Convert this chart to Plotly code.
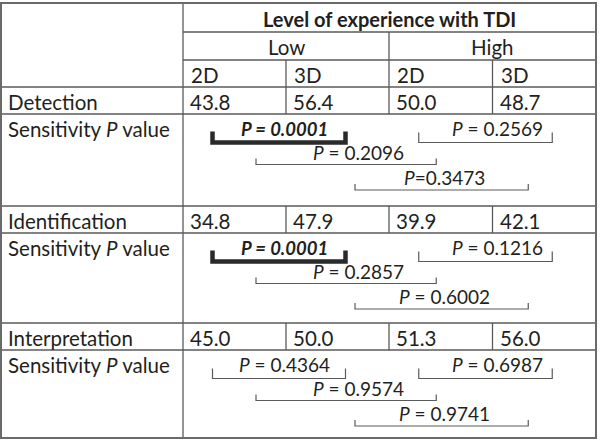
import plotly.graph_objects as go

# ---------------- data ----------------
group_labels = ["Low", "High"]
mode_labels = ["2D", "3D", "2D", "3D"]
header_title = "Level of experience with TDI"
measures = ["Detection", "Identification", "Interpretation"]
detection_vals = [43.8, 56.4, 50.0, 48.7]
identification_vals = [34.8, 47.9, 39.9, 42.1]
interpretation_vals = [45.0, 50.0, 51.3, 56.0]
# comparisons: (col a, col b)
comparisons = [(0, 1), (2, 3), (0, 2), (1, 3)]
detection_p = ["0.0001", "0.2569", "0.2096", "0.3473"]
identification_p = ["0.0001", "0.1216", "0.2857", "0.6002"]
interpretation_p = ["0.4364", "0.6987", "0.9574", "0.9741"]
significant_p = 0.05
nospace_p = {("Detection", 3)}  # "P=0.3473" printed without spaces

values = [detection_vals, identification_vals, interpretation_vals]
pvals = [detection_p, identification_p, interpretation_p]

# ---------------- layout constants ----------------
W, H = 602, 440
X_EDGES = [1, 183, 286, 389, 492.5, 596]
Y_TOP = 3
HEADER_ROWS = [3, 32, 60, 87]
VALUE_H = 27
SENS_H = [92, 90, 88]
FONT = "Lato"
FS = 20.5
FS_P = 19
FS_PB = 18.5
TXT = "#231f20"
LINE = "#5a5a5a"
BORDER = "#6a6a6a"

LEVEL = [0, 0, 1, 2]
END_OFF = {0: (-22, 8), 1: (21.5, -4.5), 2: (17.5, -16)}
TEXT_Y = [14.5, 38.5, 63.5]
BRK_Y = [28.5, 50.5, 76]
TICK_H = [10, 6, 6]
TEXT_SHIFT = [5, 12, 12, 3]

col_left = X_EDGES[1:5]
col_center = [(X_EDGES[i + 1] + X_EDGES[i + 2]) / 2 for i in range(4)]

fig = go.Figure()
shapes = []
ann = []


def hline(y, x0, x1, w=1.3, c=LINE):
    shapes.append(dict(type="line", x0=x0, x1=x1, y0=y, y1=y, xref="x", yref="y",
                       line=dict(color=c, width=w)))


def vline(x, y0, y1, w=1.3, c=LINE):
    shapes.append(dict(type="line", x0=x, x1=x, y0=y0, y1=y1, xref="x", yref="y",
                       line=dict(color=c, width=w)))


def text(x, y, s, anchor="left", size=FS):
    ann.append(dict(x=x, y=y, xref="x", yref="y", text=s, showarrow=False,
                    xanchor=anchor, yanchor="middle",
                    font=dict(family=FONT, size=size, color=TXT)))


# header
h0, h1, h2, h3 = HEADER_ROWS
hline(h1, X_EDGES[1], X_EDGES[5])
hline(h2, X_EDGES[1], X_EDGES[5])
hline(h3, X_EDGES[0], X_EDGES[5])
text((X_EDGES[1] + X_EDGES[5]) / 2, (h0 + h1) / 2 + 1, "<b>" + header_title + "</b>", "center", 20)
vline(X_EDGES[3], h1, h3)
for g, lab in enumerate(group_labels):
    text((X_EDGES[1 + 2 * g] + X_EDGES[3 + 2 * g]) / 2, (h1 + h2) / 2 + 1, lab, "center")
vline(X_EDGES[2], h2, h3)
vline(X_EDGES[4], h2, h3)
for i, lab in enumerate(mode_labels):
    text(col_left[i] + 6, (h2 + h3) / 2 + 1, lab)

# body
y = h3
for m, name in enumerate(measures):
    yv0, yv1 = y, y + VALUE_H
    text(X_EDGES[0] + 5, (yv0 + yv1) / 2 + 1, name)
    for i, v in enumerate(values[m]):
        text(col_left[i] + 5, (yv0 + yv1) / 2 + 1, f"{v:.1f}")
    for xe in X_EDGES[2:5]:
        vline(xe, yv0, yv1)
    hline(yv1, X_EDGES[0], X_EDGES[5])
    ys0 = yv1
    ys1 = ys0 + SENS_H[m]
    text(X_EDGES[0] + 5, ys0 + TEXT_Y[0], "Sensitivity <i>P</i> value")
    for k, (a, b) in enumerate(comparisons):
        lv = LEVEL[k]
        xa = col_center[a] + END_OFF[lv][0]
        xb = col_center[b] + END_OFF[lv][1]
        pv = pvals[m][k]
        bold = float(pv) < significant_p
        yb = ys0 + BRK_Y[lv]
        th = TICK_H[lv] + (1 if bold else 0)
        fig.add_trace(go.Scatter(
            x=[xa, xa, xb, xb], y=[yb - th, yb, yb, yb - th], mode="lines",
            line=dict(color="#2a2a2a" if bold else LINE, width=4.5 if bold else 1.2),
            hoverinfo="skip", showlegend=False))
        sep = "=" if (name, k) in nospace_p else " = "
        s = f"<i>P</i>{sep}{pv}"
        size = FS_P
        if bold:
            s = f"<b><i>P = {pv}</i></b>"
            size = FS_PB
        text((xa + xb) / 2 + TEXT_SHIFT[k], ys0 + TEXT_Y[lv], s, "center", size)
    if m < len(measures) - 1:
        hline(ys1, X_EDGES[0], X_EDGES[5])
    y = ys1

vline(X_EDGES[1], Y_TOP, y)
shapes.append(dict(type="rect", x0=X_EDGES[0], x1=X_EDGES[5], y0=Y_TOP, y1=y,
                   xref="x", yref="y", line=dict(color=BORDER, width=2)))

fig.update_layout(
    width=W, height=H, margin=dict(l=0, r=0, t=0, b=0),
    paper_bgcolor="white", plot_bgcolor="white",
    xaxis=dict(range=[0, W], visible=False, fixedrange=True),
    yaxis=dict(range=[H, 0], visible=False, fixedrange=True),
    shapes=shapes, annotations=ann, showlegend=False,
)
fig.write_html("out.html", config={"displayModeBar": False},
               post_script="document.body.style.margin='0';document.body.style.padding='0';"
                           "document.documentElement.style.overflow='hidden';")
